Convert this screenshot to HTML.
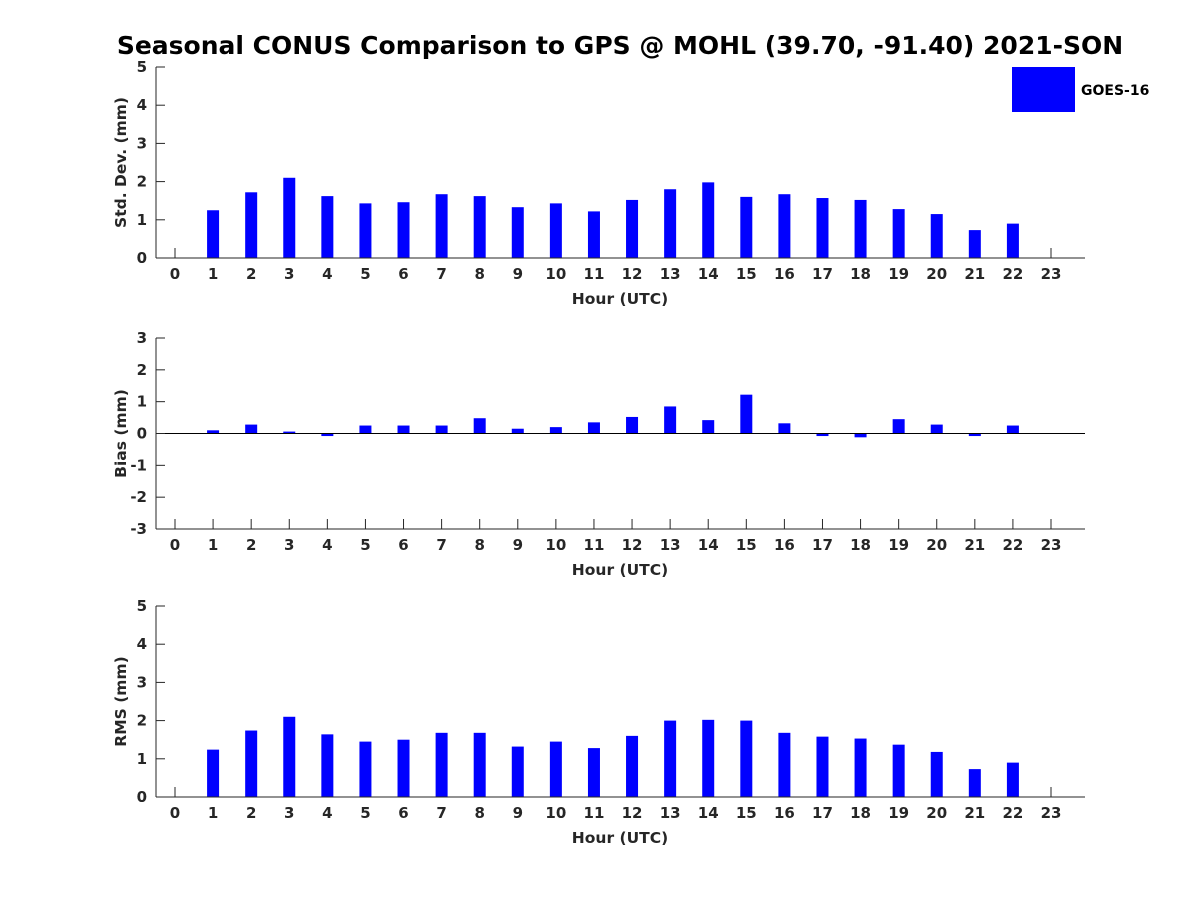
<!DOCTYPE html>
<html><head><meta charset="utf-8"><style>
body{margin:0;background:#fff}
svg{display:block;font-family:"DejaVu Sans","Liberation Sans",sans-serif;font-weight:bold}
</style></head><body>
<svg id="c" width="1200" height="900">
<rect width="1200" height="900" fill="#fff"/>
<text x="620" y="54" font-size="25" text-anchor="middle" fill="#000">Seasonal CONUS Comparison to GPS @ MOHL (39.70, -91.40) 2021-SON</text>
<rect x="1012" y="67" width="63" height="45" fill="#0000ff"/>
<text x="1081" y="95" font-size="14" fill="#000">GOES-16</text>
</svg>
<script>
const hours=[0,1,2,3,4,5,6,7,8,9,10,11,12,13,14,15,16,17,18,19,20,21,22,23];
const stdVals=[null,1.25,1.72,2.1,1.62,1.43,1.46,1.67,1.62,1.33,1.43,1.22,1.52,1.8,1.98,1.6,1.67,1.57,1.52,1.28,1.15,0.73,0.9,null];
const biasVals=[null,0.1,0.28,0.06,-0.08,0.25,0.25,0.25,0.48,0.15,0.2,0.35,0.52,0.85,0.42,1.22,0.32,-0.08,-0.12,0.45,0.28,-0.08,0.25,null];
const rmsVals=[null,1.24,1.74,2.1,1.64,1.45,1.5,1.68,1.68,1.32,1.45,1.28,1.6,2.0,2.02,2.0,1.68,1.58,1.53,1.37,1.18,0.73,0.9,null];
const stdTicks=[0,1,2,3,4,5];
const biasTicks=[-3,-2,-1,0,1,2,3];
const rmsTicks=[0,1,2,3,4,5];
const svg=document.getElementById('c');
const NS='http://www.w3.org/2000/svg';
function mk(t,a){const e=document.createElementNS(NS,t);for(const k in a)e.setAttribute(k,a[k]);svg.appendChild(e);return e;}
const X0=156,X1=1085;
function xs(h){return 175+h*(1051-175)/23;}
function panel(name,top,bot,ymin,ymax,ticks,vals,ylabel){
  const ys=v=>bot-(v-ymin)/(ymax-ymin)*(bot-top);
  const zero=ys(Math.max(ymin,0));
  hours.forEach(h=>{
    const x=xs(h);
    mk('line',{x1:x,y1:bot,x2:x,y2:bot-10,stroke:'#262626'});
    const tx=mk('text',{x:x,y:bot+21,'font-size':15,'text-anchor':'middle',fill:'#262626'});
    tx.textContent=h;
    
    
  });
  vals.forEach((v,i)=>{
    if(v===null)return;
    const y1=ys(v);
    const r=mk('rect',{x:xs(hours[i])-6,y:Math.min(y1,zero),width:12,height:Math.abs(zero-y1),fill:'#0000ff'});
    
    
  });
  let l=mk('line',{x1:X0,y1:top,x2:X0,y2:bot,stroke:'#262626','stroke-width':1});
  
  
  l=mk('line',{x1:X0,y1:bot,x2:X1,y2:bot,stroke:'#262626','stroke-width':1});
  
  
  if(ymin<0){l=mk('line',{x1:X0,y1:zero,x2:X1,y2:zero,stroke:'#000','stroke-width':1});
    
    }
  ticks.forEach(t=>{
    const y=ys(t);
    mk('line',{x1:X0,y1:y,x2:X0+9,y2:y,stroke:'#262626'});
    const tx=mk('text',{x:X0-9,y:y+5,'font-size':15,'text-anchor':'end',fill:'#262626'});
    tx.textContent=t;
    
    
  });
  let t=mk('text',{x:620,y:bot+46,'font-size':15.5,'text-anchor':'middle',fill:'#262626'});
  t.textContent='Hour (UTC)';
  
  
  const cy=(top+bot)/2;
  t=mk('text',{x:126,y:cy,'font-size':15.5,'text-anchor':'middle',fill:'#262626',transform:'rotate(-90 126 '+cy+')'});
  t.textContent=ylabel;
  
  
}
panel('std',67,258,0,5,stdTicks,stdVals,'Std. Dev. (mm)');
panel('bias',338,529,-3,3,biasTicks,biasVals,'Bias (mm)');
panel('rms',606,797,0,5,rmsTicks,rmsVals,'RMS (mm)');
</script>
</body></html>
